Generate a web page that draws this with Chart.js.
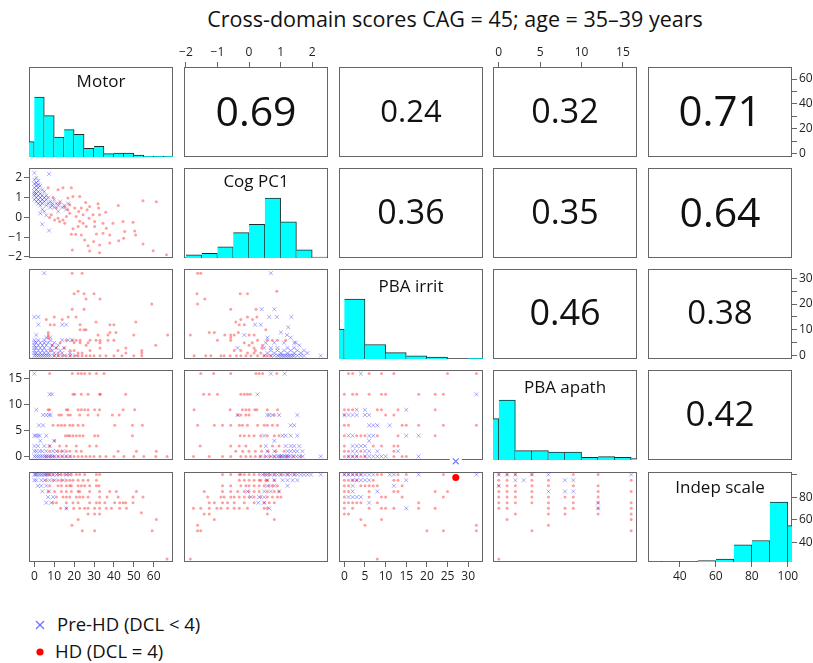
<!DOCTYPE html>
<html>
<head>
<meta charset="utf-8">
<script src="https://cdn.jsdelivr.net/npm/chart.js@4.4.0/dist/chart.umd.min.js"></script>
<style>
  body { margin: 0; width: 813px; height: 663px; overflow: hidden; background: #fff; position: relative; font-family: 'Open Sans', sans-serif; color: #111; }
  canvas { position: absolute; }
  #title { position: absolute; left: 0; top: 8px; width: 910px; text-align: center; font-size: 21.5px; line-height: 21.5px; white-space: nowrap; }
  .corr, .diag { position: absolute; text-align: center; white-space: nowrap; }
  .leg { position: absolute; left: 0; font-size: 18.5px; line-height: 18.5px; white-space: nowrap; }
  .leg svg { position: absolute; }
</style>
</head>
<body>
<div id="title">Cross-domain scores CAG = 45; age = 35–39 years</div>
<div class="leg" style="top:615px">
  <svg width="10" height="10" style="left:35px;top:5px"><path d="M1 1L9 9M9 1L1 9" stroke="rgba(60,60,255,0.75)" stroke-width="1.2" fill="none"/></svg>
  <span style="position:absolute;left:57px">Pre-HD (DCL &lt; 4)</span>
</div>
<div class="leg" style="top:642px">
  <svg width="10" height="10" style="left:35px;top:5px"><circle cx="5" cy="5" r="3.6" fill="#f00"/></svg>
  <span style="position:absolute;left:55px">HD (DCL = 4)</span>
</div>
<script>
// variables of the pairs plot
const varNames = ['Motor', 'Cog PC1', 'PBA irrit', 'PBA apath', 'Indep scale'];
const varRange = [[-2.68, 69.68], [-2.06, 2.5], [-1.3, 33.6], [-0.7, 16.7], [22.3, 102.3]];

// tick values
const motorTicks = [0, 10, 20, 30, 40, 50, 60];
const cogTicks = [-2, -1, 0, 1, 2];
const irritTicks = [0, 5, 10, 15, 20, 25, 30];
const apathTicks = [0, 5, 10, 15];
const indepTicks = [40, 60, 80, 100];

// histograms on the diagonal (bin breaks + counts)
const motorBreaks = [-5, 0, 5, 10, 15, 20, 25, 30, 35, 40, 45, 50, 55, 60, 65, 70];
const motorCounts = [23, 90, 62, 30, 41, 34, 13, 16, 5, 6, 6, 3, 1, 1, 1];
const cogBreaks = [-2, -1.5, -1, -0.5, 0, 0.5, 1, 1.5, 2, 2.5];
const cogCounts = [6, 9, 22, 50, 66, 118, 71, 16, 2];
const irritBreaks = [-5, 0, 5, 10, 15, 20, 25, 30, 35];
const irritCounts = [95, 190, 46, 20, 10, 6, 0, 2];
const apathBreaks = [-2, 0, 2, 4, 6, 8, 10, 12, 14, 16, 18];
const apathCounts = [62, 90, 14, 14, 12, 12, 4, 5, 4, 2];
const indepBreaks = [20, 30, 40, 50, 60, 70, 80, 90, 100, 110];
const indepCounts = [1, 1, 1, 4, 8, 49, 61, 170, 103];

// correlations (upper panels)
const corrCells = [[0, 1], [0, 2], [0, 3], [0, 4], [1, 2], [1, 3], [1, 4], [2, 3], [2, 4], [3, 4]];
const corrValues = ['0.69', '0.24', '0.32', '0.71', '0.36', '0.35', '0.64', '0.46', '0.38', '0.42'];

// scatter points [x, y] (lower panels)
const motorCogPre = [[0,2.25],[7.4,2.2],[1,2.0],[0,1.9],[2,1.85],[1,1.75],[0,1.7],[2,1.65],[3,1.6],[1,1.6],[0,1.5],[2,1.5],[4,1.4],[1,1.4],[0,1.3],[2,1.3],[5,1.3],[1,1.2],[3,1.2],[0,1.2],[6,1.1],[0,1.1],[2,1.1],[4,1.1],[1,1.0],[3,1.0],[5,1.0],[7,1.0],[0,0.9],[2,0.9],[4,0.9],[6,0.9],[10,0.9],[1,0.8],[3,0.8],[5,0.8],[8,0.8],[13,0.8],[2,0.7],[4,0.7],[7,0.7],[9,0.7],[11,0.7],[17,0.7],[3,0.6],[6,0.6],[9,0.6],[12,0.6],[15,0.6],[8,0.5],[10,0.5],[14,0.5],[4,0.4],[16,0.4],[5,0.3],[12,0.3],[3,0.2],[6,0.1],[4,-0.35],[7.4,-0.67]];
const motorCogHD = [[6.9,1.5],[11.9,1.4],[14.4,1.5],[18.6,1.5],[9.4,1.0],[16.9,0.98],[19.4,1.06],[22.8,1.06],[12.7,0.72],[17.8,0.64],[15.3,0.52],[11.1,0.47],[20.3,0.47],[23.6,0.47],[25.8,0.75],[27.8,0.55],[32,0.69],[32.3,0.47],[26.5,0.38],[16.9,0.38],[22.3,0.3],[17.8,0.21],[8.5,0.13],[24.5,0.13],[29.5,0.13],[32.8,0.13],[35.9,0.26],[42.2,0.6],[54.6,0.84],[61.3,0.79],[16.1,0.04],[21,0.04],[7.7,-0.01],[11.9,-0.04],[27.5,-0.04],[10.2,-0.13],[14.4,-0.13],[12.7,-0.21],[22.8,-0.2],[30.3,-0.21],[15.3,-0.3],[24.5,-0.3],[34.5,-0.3],[39.5,-0.3],[44.6,-0.21],[49.6,-0.25],[22,-0.47],[26.1,-0.47],[30.3,-0.47],[36.2,-0.55],[19.4,-0.58],[34.5,-0.8],[18.6,-0.86],[20.8,-0.86],[31.2,-0.84],[23.6,-0.9],[37.9,-0.9],[45.4,-0.72],[50.4,-0.69],[50.9,-0.9],[44.9,-1.06],[25.3,-1.15],[42.4,-1.18],[29.8,-1.23],[37.9,-1.3],[54.6,-1.35],[32.8,-1.4],[27,-1.44],[19.1,-1.66],[27.8,-1.71],[59.7,-1.69],[32.8,-1.8],[66.4,-1.9]];

const motorIrritPre = [[5,32],[0,15],[2,15],[2,12],[14,12],[16,12],[1,8],[6,7],[8,7],[0,6],[2,6],[5,6],[8,6],[14,6],[17,6],[19,6],[0,5],[1,5],[3,5],[5,5],[7,5],[10,5],[0,4],[2,4],[4,4],[6,4],[9,4],[12,4],[0,3],[1,3],[3,3],[5,3],[8,3],[11,3],[15,3],[0,2],[2,2],[4,2],[6,2],[9,2],[13,2],[0,1],[1,1],[3,1],[5,1],[7,1],[10,1],[14,1],[18,1],[0,0],[1,0],[2,0],[3,0],[4,0],[5,0],[6,0],[7,0],[8,0],[10,0],[12,0],[15,0],[18,0],[21,0]];
const motorIrritHD = [[19,32],[24,32],[20,24],[22,25],[25,24],[30,24],[26,22],[33,22],[19,18],[25,18],[59,20],[6,14],[10,15],[14,14],[17,15],[21,15],[31,13],[38,12],[40,12],[51,13],[8,12],[10,12],[23,12],[23,10],[25,10],[26,10],[7,9],[7,8],[7,7],[32,8],[37,8],[38,9],[41,9],[50,8],[67,8],[16,6],[19,6],[21,6],[23,6],[28,6],[31,6],[33,6],[37,6],[40,6],[20,5],[23,5],[27,5],[33,5],[61,4],[46,3],[42,2],[54,2],[54,1],[46,1],[26,4],[33,3],[15,3],[18,2],[12,1],[22,1],[10,0],[12,0],[14,0],[16,0],[18,0],[20,0],[22,0],[24,0],[26,0],[28,0],[30,0],[33,0],[36,0],[40,0],[44,0],[50,0],[54,0],[8,2],[9,4],[11,3],[13,5],[20,2],[24,1],[28,2]];

const cogIrritPre = [[0.69,32],[0.4,18],[0.8,18],[0.64,15],[0.88,15],[1.34,15],[0.37,12],[0.19,12],[1.24,11],[1.01,9],[1.2,8],[-0.15,8],[0.58,7],[1.32,7],[1.48,5],[0.53,5],[0.8,5],[1.11,5],[1.43,5],[1.59,4],[0.48,3],[0.69,3],[0.9,3],[1.22,3],[1.43,3],[-0.36,3],[0.69,2],[0.9,2],[1.11,2],[1.32,2],[1.53,2],[1.74,2],[0.58,1],[0.8,1],[1.01,1],[1.22,1],[1.43,1],[1.64,1],[1.85,1],[0.48,0],[0.69,0],[0.8,0],[0.9,0],[1.01,0],[1.11,0],[1.22,0],[1.32,0],[1.43,0],[1.53,0],[1.64,0],[1.74,0],[2.27,0],[0.95,0],[1.06,0],[1.16,0],[1.27,0],[1.38,0]];
const cogIrritHD = [[-1.63,32],[-1.53,32],[-1.65,24],[-1.4,22],[-1.63,20],[-0.28,24],[-0.05,24],[0.88,25],[-0.58,18],[0.22,18],[-0.05,15],[0.25,15],[-0.26,14],[0.11,14],[-0.42,13],[-0.31,12],[-0.15,12],[-1.86,8],[-1.26,9],[-1.1,9],[-0.77,8],[-0.58,8],[-0.47,8],[-0.34,9],[0.0,8],[0.16,8],[0.53,10],[-0.58,7],[-1.0,6],[-0.58,6],[0.27,6],[0.58,6],[0.74,6],[0.9,6],[1.16,6],[0.43,4],[0.0,4],[0.16,3],[-0.26,2],[-0.47,2],[-0.05,1],[0.16,1],[0.37,1],[-1.74,0],[-1.37,0],[-1.21,0],[-0.89,0],[-0.79,0],[-0.26,0],[-0.1,0],[0.06,0],[0.27,0],[0.48,0],[0.58,0],[0.69,0],[-0.4,0],[-0.6,0],[0.2,2],[0.4,3],[-0.15,5],[0.1,5]];

const motorApathPre = [[0,16],[0,4],[0.8,4],[1.8,4],[2.7,4],[0,2],[1.8,2],[0,1],[1,1],[2.7,1],[1,9],[4.4,8],[6,8],[7.4,8],[8.2,8],[7.7,12],[8.9,12],[2.3,6],[4.4,6],[6,4],[9.9,3],[7.7,2],[9.4,1],[11.1,1],[14.4,1],[0,0],[1,0],[2,0],[3,0],[4,0],[5,0],[6,0],[7,0],[8,0],[9,0],[10,0],[12,0],[14,0],[16,0],[18,0],[5,2],[3,3],[4,1],[6,1]];
const motorApathHD = [[7.7,16],[19.1,16],[22,16],[23.6,16],[25.3,16],[27.8,16],[31.2,16],[35,16],[19.4,12],[20.3,12],[23.6,12],[27,12],[32.8,12],[33.2,12],[45.9,12],[6.9,9],[7.7,9],[16.1,9],[16.9,9],[22,9],[23.6,9],[25.3,9],[27,9],[30.3,9],[32.8,9],[44.6,9],[50.4,9],[12.4,8],[13.6,8],[16.9,8],[18.1,8],[22.8,8],[27,8],[32,8],[39.2,8],[42.6,8],[9.4,6],[11.9,6],[13.6,6],[15.3,6],[17.8,6],[19.4,6],[22,6],[24.5,6],[40.4,6],[49.3,6],[54.3,6],[15.6,4],[16.9,4],[17.8,4],[19.4,4],[21.1,4],[22.8,4],[24.5,4],[30.3,4],[32,4],[49.3,4],[10.2,3],[7.7,2],[12.7,2],[16.1,2],[21.1,2],[27.8,2],[31.2,2],[7.7,1],[11.9,1],[13.6,1],[16.1,1],[17.8,1],[21.1,1],[23.6,1],[42.1,1],[51.3,1],[61.3,1],[6,0],[8,0],[10,0],[12,0],[14,0],[16,0],[18,0],[20,0],[22,0],[24,0],[26,0],[28,0],[30,0],[33,0],[36,0],[40,0],[45,0],[50,0],[55,0],[61,0],[66.7,0]];

const cogApathPre = [[0.69,16],[1.13,16],[0.27,12],[-0.36,8],[0.58,8],[0.64,8],[0.74,8],[0.95,8],[1.53,8],[1.32,6],[1.43,6],[0.48,4],[1.06,4],[1.16,4],[1.32,4],[1.53,4],[0.8,3],[0.53,2],[1.16,2],[1.32,2],[1.43,2],[1.59,2],[0.58,1],[0.8,1],[1.22,1],[1.32,1],[1.43,1],[1.53,1],[1.69,1],[0.37,0],[0.55,0],[0.7,0],[0.8,0],[0.9,0],[1.0,0],[1.1,0],[1.2,0],[1.3,0],[1.4,0],[1.5,0],[1.6,0],[1.7,0],[2.27,0],[0.95,0],[1.05,0],[1.15,0],[1.25,0]];
const cogApathHD = [[-1.53,16],[-1.12,16],[-0.58,16],[0.22,16],[0.32,16],[0.43,16],[0.88,16],[-1.44,12],[-1.26,12],[-1.0,12],[-0.26,12],[-0.15,12],[-0.05,12],[0.04,12],[-1.74,9],[-0.6,9],[-0.21,9],[-0.1,9],[0.0,9],[0.18,9],[0.25,9],[0.58,9],[0.9,9],[-0.36,8],[-0.26,8],[-0.1,8],[0.0,8],[0.8,8],[-1.63,6],[-1.1,6],[-0.84,6],[-0.58,6],[-0.31,6],[-0.21,6],[-0.05,6],[0.27,6],[0.48,6],[0.58,6],[0.74,6],[0.9,6],[-0.28,4],[-0.15,4],[0.0,4],[0.16,4],[0.37,4],[0.58,4],[0.8,4],[0.95,4],[-1.55,2],[-0.58,2],[-0.31,2],[-0.1,2],[0.37,2],[0.74,2],[0.95,2],[-0.42,1],[-0.2,1],[0.0,1],[0.2,1],[0.4,1],[0.6,1],[0.85,1],[1.11,1],[-1.76,0],[-1.26,0],[-0.84,0],[-0.58,0],[-0.26,0],[-0.1,0],[0.05,0],[0.2,0],[0.35,0],[0.5,0],[0.65,0],[0.8,0],[1.0,0],[1.2,0],[1.4,0],[1.64,0]];

const irritApathPre = [[4,16],[32,12],[3,9],[5,9],[15,9],[0,8],[1,8],[2,8],[3,8],[5,8],[6,8],[6,6],[7,6],[8,6],[11,6],[1,4],[2,4],[6,4],[7,4],[15,4],[18,4],[6,3],[2,2],[3,2],[4,2],[5,2],[2,1],[3,1],[5,1],[6,1],[8,1],[13,1],[1,0],[2,0],[3,0],[5,0],[6,0],[7,0],[8,0],[9,0],[10,0],[18,0]];
const irritApathHD = [[1,16],[2,16],[6,16],[9,16],[12,16],[25,16],[32,16],[0,12],[2,12],[3,12],[6,12],[9,12],[10,12],[18,12],[22,12],[24,12],[0,9],[1,9],[2,9],[8,9],[9,9],[13,9],[22,9],[10,8],[12,8],[0,8],[0,6],[1,6],[14,6],[15,6],[18,6],[24,6],[32,6],[0,4],[3,4],[4,4],[5,4],[8,4],[13,4],[22,4],[0,2],[7,2],[9,2],[12,2],[13,2],[0,1],[1,1],[4,1],[12,1],[0,0],[1,0],[2,0],[3,0],[4,0],[5,0],[12,0],[14,0],[15,0]];

const motorIndepPre = [[0,100],[0.5,100],[1,100],[1.8,100],[2.7,100],[3.5,100],[4.4,100],[5.2,100],[6,100],[6.9,100],[7.7,100],[9.4,100],[11.1,100],[12.7,100],[16.1,100],[17.8,100],[0,95],[1,95],[3.5,95],[5.2,95],[7.7,95],[10.2,95],[14.4,95],[1.8,90],[3.5,90],[6,90],[4,85],[7.4,85],[6.9,80],[9.4,80],[6,75],[8.5,75],[16.1,70]];
const motorIndepHD = [[6,100],[7.7,100],[9.4,100],[11.9,100],[13.6,100],[15.3,100],[16.9,100],[18.6,100],[21.1,100],[22.8,100],[25.3,100],[31.2,100],[32.8,100],[6,95],[9.4,95],[11.9,95],[13.6,95],[16.1,95],[17.8,95],[19.4,95],[22,95],[24.5,95],[27,95],[31.2,95],[7.7,90],[11.9,90],[13.6,90],[16.1,90],[17.8,90],[18.6,90],[22,90],[23.6,90],[25.3,90],[27.8,90],[31.2,90],[32.5,90],[6.9,85],[10.2,85],[13.6,85],[16.1,85],[18.6,85],[22,85],[22.8,85],[27.8,85],[32.8,85],[37.9,85],[41.2,85],[51.3,85],[11.1,80],[14.4,80],[16.1,80],[17.8,80],[21.1,80],[22.8,80],[24.5,80],[27,80],[32.8,80],[36.5,80],[42.1,80],[49.6,80],[54.6,80],[9.4,75],[11.1,75],[16.1,75],[19.4,75],[22,75],[27.8,75],[31.2,75],[32.8,75],[35.4,75],[40.4,75],[42.9,75],[44.6,75],[45.9,75],[49.6,75],[13.2,70],[16.1,70],[19.8,70],[22.8,70],[25.3,70],[27,70],[30.3,70],[32.8,70],[36.2,70],[38.7,70],[42.9,70],[46.3,70],[27,65],[30.3,65],[32.8,65],[53.8,66],[22,60],[61.3,60],[18.9,55],[24.1,50],[30.3,50],[59.2,50],[66.7,25]];

const cogIndepPre = [[0.43,100],[0.53,100],[0.58,100],[0.69,100],[0.8,100],[0.9,100],[1.01,100],[1.11,100],[1.22,100],[1.32,100],[1.43,100],[1.53,100],[1.64,100],[1.74,100],[1.85,100],[1.96,100],[2.27,100],[0.58,95],[0.8,95],[1.06,95],[1.22,95],[1.38,95],[1.53,95],[0.58,90],[0.8,90],[1.22,90],[-0.05,85],[0.48,85],[0.69,85],[0.95,85],[0.06,80],[0.32,80],[0.48,80],[0.29,75],[0.48,75],[0.64,70]];
const cogIndepHD = [[-0.84,100],[-0.58,100],[-0.31,100],[-0.26,100],[-0.15,100],[0.0,100],[0.16,100],[0.32,100],[0.48,100],[0.64,100],[0.8,100],[1.01,100],[1.22,100],[1.43,100],[-0.31,95],[-0.15,95],[0.0,95],[0.16,95],[0.32,95],[0.37,95],[0.53,95],[0.58,95],[0.8,95],[-0.84,90],[-0.58,90],[-0.26,90],[-0.1,90],[0.0,90],[0.16,90],[0.32,90],[0.48,90],[0.64,90],[0.74,90],[0.9,90],[-1.42,85],[-0.84,85],[-0.58,85],[-0.36,85],[-0.15,85],[0.0,85],[0.16,85],[0.32,85],[0.58,85],[0.8,85],[0.95,85],[-1.31,80],[-0.89,80],[-0.79,80],[-0.58,80],[-0.47,80],[-0.31,80],[-0.15,80],[0.0,80],[0.16,80],[0.37,80],[0.58,80],[0.74,80],[0.9,80],[1.01,80],[-1.26,75],[-1.1,75],[-0.84,75],[-0.68,75],[-0.47,75],[-0.15,75],[0.16,75],[0.48,75],[0.64,75],[0.8,75],[-1.76,70],[-1.53,70],[-1.26,70],[-1.02,70],[-0.89,70],[-0.68,70],[-0.47,70],[-0.31,70],[-0.05,70],[0.48,70],[0.58,70],[-1.42,65],[-1.26,65],[0.58,65],[-1.1,60],[0.8,60],[-1.63,55],[-1.63,50],[-1.53,50],[-1.86,25]];

const irritIndepPre = [[0,100],[1,100],[2,100],[3,100],[4,100],[5,100],[6,100],[7,100],[11,100],[12,100],[18,100],[32,100],[2,95],[3,95],[4,95],[5,95],[6,95],[15,95],[2,90],[12,90],[2,85],[8,85],[1,80],[2,80],[3,80],[4,80],[6,75],[15,70]];
const irritIndepHD = [[0,100],[1,100],[2,100],[3,100],[4,100],[8,100],[9,100],[13,100],[15,100],[24,100],[0,95],[1,95],[2,95],[3,95],[7,95],[12,95],[13,95],[0,90],[1,90],[4,90],[5,90],[6,90],[7,90],[8,90],[14,90],[0,85],[1,85],[6,85],[12,85],[13,85],[22,85],[25,85],[0,80],[6,80],[9,80],[10,80],[14,80],[24,80],[0,75],[1,75],[2,75],[3,75],[4,75],[8,75],[18,75],[0,70],[2,70],[6,70],[9,70],[10,70],[12,70],[18,70],[22,70],[0,65],[1,65],[4,60],[9,60],[5,55],[32,55],[20,50],[24,50],[32,50],[8,25]];

const apathIndepPre = [[0,100],[1,100],[2,100],[4,100],[6,100],[16,100],[2,95],[3,95],[8,95],[9,95],[0,90],[6,85],[8,85],[9,85],[12,75],[12,70]];
const apathIndepHD = [[0,100],[1,100],[2,100],[4,100],[9,100],[12,100],[0,95],[1,95],[4,95],[6,95],[16,95],[0,90],[1,90],[2,90],[4,90],[6,90],[9,90],[12,90],[0,85],[1,85],[2,85],[4,85],[12,85],[16,85],[0,80],[1,80],[2,80],[4,80],[6,80],[8,80],[9,80],[12,80],[0,75],[1,75],[2,75],[4,75],[6,75],[9,75],[12,75],[16,75],[0,70],[1,70],[6,70],[8,70],[9,70],[12,70],[16,70],[2,65],[6,65],[8,65],[12,65],[16,65],[1,60],[16,60],[6,55],[4,50],[16,50],[0,25]];

// the two stray legend symbols drawn near the PBA irrit column
const strayPreHD = [[27, -0.95]];
const strayHD = [[27, 97.5]];

// ---------- layout ----------
const colLeft = [29, 184, 339, 493, 648];
const rowTop = [67, 168, 269, 370, 472];
const panelW = 144, panelH = 90;
const E = 14;
const axisSize = { top: 24, bottom: 24, left: 29, right: 26 };
const corrSize = [41, 31, 34, 42, 34, 34, 41, 36, 33, 35];
const diagBaseline = [20, 19.5, 22.7, 22.7, 20.6];

const histBreaks = [motorBreaks, cogBreaks, irritBreaks, apathBreaks, indepBreaks];
const histCounts = [motorCounts, cogCounts, irritCounts, apathCounts, indepCounts];

const scatterCells = {
  '1,0': [motorCogPre, motorCogHD],
  '2,0': [motorIrritPre, motorIrritHD],
  '2,1': [cogIrritPre, cogIrritHD],
  '3,0': [motorApathPre, motorApathHD],
  '3,1': [cogApathPre, cogApathHD],
  '3,2': [irritApathPre, irritApathHD],
  '4,0': [motorIndepPre, motorIndepHD],
  '4,1': [cogIndepPre, cogIndepHD],
  '4,2': [irritIndepPre, irritIndepHD],
  '4,3': [apathIndepPre, apathIndepHD]
};

const outerAxes = [
  { row: 0, col: 1, side: 'top', ticks: cogTicks, labels: cogTicks },
  { row: 0, col: 3, side: 'top', ticks: apathTicks, labels: apathTicks },
  { row: 0, col: 4, side: 'right', ticks: motorTicks, labels: [0, 20, 40, 60] },
  { row: 1, col: 0, side: 'left', ticks: cogTicks, labels: cogTicks },
  { row: 2, col: 4, side: 'right', ticks: irritTicks, labels: [0, 10, 20, 30] },
  { row: 3, col: 0, side: 'left', ticks: apathTicks, labels: apathTicks },
  { row: 4, col: 0, side: 'bottom', ticks: motorTicks, labels: motorTicks },
  { row: 4, col: 2, side: 'bottom', ticks: irritTicks, labels: irritTicks },
  { row: 4, col: 4, side: 'bottom', ticks: indepTicks, labels: indepTicks },
  { row: 4, col: 4, side: 'right', ticks: indepTicks, labels: [40, 60, 80] }
];

function fmt(v) { return v < 0 ? '\u2212' + Math.abs(v) : String(v); }

function hiddenScale(range, ticks) {
  const s = { type: 'linear', display: false, min: range[0], max: range[1], offset: false, grid: { offset: false } };
  if (ticks) s.afterBuildTicks = sc => { sc.ticks = ticks.map(v => ({ value: v })); };
  return s;
}

function axisScale(side, range, ticks, labels) {
  const vertical = side === 'left' || side === 'right';
  return {
    type: 'linear', position: side, min: range[0], max: range[1], offset: false,
    afterBuildTicks: sc => { sc.ticks = ticks.map(v => ({ value: v })); },
    afterFit: sc => { if (vertical) sc.width = axisSize[side]; else sc.height = axisSize[side]; },
    border: { display: false },
    grid: { drawOnChartArea: false, drawTicks: true, tickLength: 5, color: '#666', offset: false },
    ticks: {
      autoSkip: false, maxRotation: 0, minRotation: 0, padding: 2, color: '#222',
      font: { family: 'Open Sans', size: 12 },
      callback: v => labels.includes(v) ? fmt(v) : ''
    }
  };
}

// panel box, drawn under the marks
const panelBorder = {
  id: 'panelBorder',
  beforeDatasetsDraw(chart) {
    const { ctx, chartArea: a } = chart;
    ctx.save();
    ctx.strokeStyle = '#666';
    ctx.lineWidth = 1;
    ctx.strokeRect(a.left + 0.5, a.top + 0.5, a.width - 1, a.height - 1);
    ctx.restore();
  }
};

// white patch behind the stray cross (it breaks the panel frame)
const strayPatch = {
  id: 'strayPatch',
  beforeDatasetsDraw(chart) {
    const x = chart.scales.x.getPixelForValue(strayPreHD[0][0]);
    const y = chart.scales.y.getPixelForValue(strayPreHD[0][1]);
    chart.ctx.save();
    chart.ctx.fillStyle = '#fff';
    chart.ctx.fillRect(x - 6, y - 5, 12, 10);
    chart.ctx.restore();
  }
};

function preSet(data) {
  return { label: 'Pre-HD (DCL < 4)', data, pointStyle: 'crossRot', pointRadius: 2.8, borderWidth: 1,
    borderColor: 'rgba(0,0,255,0.33)', backgroundColor: 'rgba(0,0,255,0.33)' };
}
function hdSet(data) {
  return { label: 'HD (DCL = 4)', data, pointStyle: 'circle', pointRadius: 1.5, borderWidth: 0,
    backgroundColor: 'rgba(255,0,0,0.38)' };
}

function makePanel(r, c) {
  const axes = outerAxes.filter(a => a.row === r && a.col === c);
  const pad = { top: E, right: E, bottom: E, left: E };
  const layoutPad = { top: E, right: E, bottom: E, left: E };
  axes.forEach(a => { pad[a.side] = axisSize[a.side]; layoutPad[a.side] = 0; });

  const cv = document.createElement('canvas');
  cv.width = panelW + pad.left + pad.right;
  cv.height = panelH + pad.top + pad.bottom;
  cv.style.left = (colLeft[c] - pad.left) + 'px';
  cv.style.top = (rowTop[r] - pad.top) + 'px';
  document.body.appendChild(cv);

  const diag = r === c;
  let centers = null;
  if (diag) {
    const br = histBreaks[c];
    centers = br.slice(0, -1).map((b, i) => (b + br[i + 1]) / 2);
  }
  const scales = {
    x: hiddenScale(varRange[c], centers),
    y: diag ? hiddenScale([0, 1.5]) : hiddenScale(varRange[r])
  };
  axes.forEach(a => {
    const horiz = a.side === 'top' || a.side === 'bottom';
    const range = horiz ? varRange[c] : varRange[r];
    const id = horiz ? 'x' : (diag ? 'y2' : 'y');
    scales[id] = axisScale(a.side, range, a.ticks, a.labels);
  });

  let type = 'scatter';
  let datasets = [];
  const plugins = [panelBorder];
  if (diag) {
    type = 'bar';
    const counts = histCounts[c];
    const top = Math.max(...counts);
    datasets = [{
      data: counts.map((n, i) => ({ x: centers[i], y: n / top })),
      backgroundColor: '#00ffff', borderColor: '#1e2e2e',
      borderWidth: { top: 1, right: 1, left: 0, bottom: 0 }, borderSkipped: false,
      categoryPercentage: 1, barPercentage: 1
    }];
  } else if (r > c) {
    const cell = scatterCells[r + ',' + c];
    datasets = [hdSet(cell[1]), preSet(cell[0])];
    if (r === 3 && c === 2) {
      plugins.push(strayPatch);
      datasets.push({ data: strayPreHD, pointStyle: 'crossRot', pointRadius: 4.2, borderWidth: 1.1,
        borderColor: 'rgba(60,60,255,0.7)', clip: false });
    }
    if (r === 4 && c === 2) {
      datasets.push({ data: strayHD, pointStyle: 'circle', pointRadius: 3.5, borderWidth: 0,
        backgroundColor: '#ff0000', clip: false });
    }
  }

  new Chart(cv, {
    type,
    data: { datasets },
    options: {
      responsive: false, animation: false, devicePixelRatio: 1, events: [],
      layout: { padding: layoutPad },
      plugins: { legend: { display: false }, tooltip: { enabled: false } },
      scales
    },
    plugins
  });
}

for (let r = 0; r < 5; r++) {
  for (let c = 0; c < 5; c++) makePanel(r, c);
}

// variable names on the diagonal
varNames.forEach((name, i) => {
  const d = document.createElement('div');
  d.className = 'diag';
  d.style.left = colLeft[i] + 'px';
  d.style.width = panelW + 'px';
  d.style.fontSize = '17px';
  d.style.lineHeight = '17px';
  d.style.top = (rowTop[i] + diagBaseline[i] - 15.1) + 'px';
  d.textContent = name;
  document.body.appendChild(d);
});

// correlation numbers in the upper panels
corrValues.forEach((txt, i) => {
  const [r, c] = corrCells[i];
  const d = document.createElement('div');
  d.className = 'corr';
  d.style.left = colLeft[c] + 'px';
  d.style.top = (rowTop[r] - 2) + 'px';
  d.style.width = panelW + 'px';
  d.style.height = panelH + 'px';
  d.style.lineHeight = panelH + 'px';
  d.style.fontSize = corrSize[i] + 'px';
  d.textContent = txt;
  document.body.appendChild(d);
});
</script>
</body>
</html>
